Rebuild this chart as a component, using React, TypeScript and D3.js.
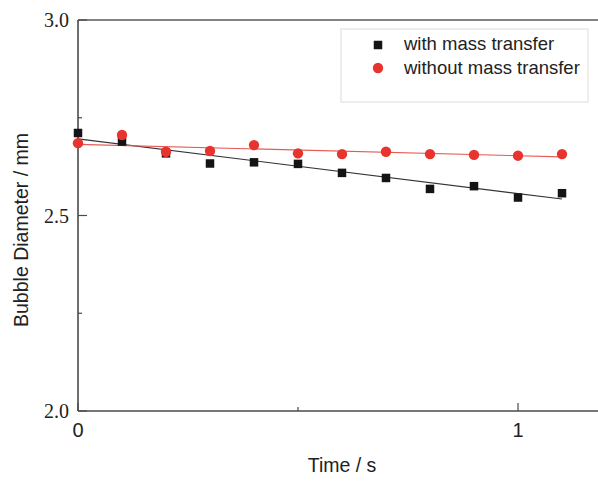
import React, { useEffect, useRef } from "react";
import * as d3 from "d3";

const timeValues = [0, 0.1, 0.2, 0.3, 0.4, 0.5, 0.6, 0.7, 0.8, 0.9, 1.0, 1.1];
const withMassTransfer = [2.711, 2.689, 2.659, 2.633, 2.636, 2.632, 2.609, 2.596, 2.568, 2.575, 2.546, 2.557];
const withoutMassTransfer = [2.685, 2.706, 2.663, 2.665, 2.68, 2.659, 2.657, 2.663, 2.657, 2.655, 2.653, 2.657];
const fitTime = [0, 1.1];
const fitWith = [2.696, 2.542];
const fitWithout = [2.682, 2.65];
const yMajorTicks = [2.0, 2.5, 3.0];
const yMinorTicks = [2.25, 2.75];
const xMajorTicks = [0, 1];
const xMinorTicks = [0.5];
const seriesNames = ["with mass transfer", "without mass transfer"];

export default function App() {
  const ref = useRef<SVGSVGElement>(null);

  useEffect(() => {
    const svg = d3.select(ref.current);
    svg.selectAll("*").remove();
    const W = 598;
    const x = d3.scaleLinear().domain([0, 1]).range([78, 518]);
    const y = d3.scaleLinear().domain([2.0, 3.0]).range([411, 20]);
    const axisColor = "#4a4a4a";
    const red = "#e8342f";
    const black = "#141414";

    // axes
    svg.append("line").attr("x1", 78).attr("x2", W).attr("y1", y(2)).attr("y2", y(2))
      .attr("stroke", axisColor).attr("stroke-width", 1.6);
    svg.append("line").attr("x1", 78).attr("x2", W).attr("y1", y(3)).attr("y2", y(3))
      .attr("stroke", "#5a5a5a").attr("stroke-width", 1.6);
    svg.append("line").attr("x1", 78).attr("x2", 78).attr("y1", y(3)).attr("y2", y(2))
      .attr("stroke", axisColor).attr("stroke-width", 1.6);

    // y ticks
    yMajorTicks.forEach((t) => {
      svg.append("line").attr("x1", 78).attr("x2", 87).attr("y1", y(t)).attr("y2", y(t))
        .attr("stroke", axisColor).attr("stroke-width", 1.2);
      svg.append("text").attr("x", 69).attr("y", y(t) + 7).attr("text-anchor", "end")
        .attr("font-family", "'Liberation Serif', 'Times New Roman', serif").attr("font-size", 20)
        .attr("fill", "#222").text(d3.format(".1f")(t));
    });
    yMinorTicks.forEach((t) => {
      svg.append("line").attr("x1", 78).attr("x2", 82).attr("y1", y(t)).attr("y2", y(t))
        .attr("stroke", axisColor).attr("stroke-width", 1.2);
    });
    // x ticks
    xMajorTicks.forEach((t) => {
      svg.append("line").attr("x1", x(t)).attr("x2", x(t)).attr("y1", y(2)).attr("y2", y(2) - 8)
        .attr("stroke", axisColor).attr("stroke-width", 1.2);
      svg.append("text").attr("x", x(t)).attr("y", 437).attr("text-anchor", "middle")
        .attr("font-family", "'Liberation Sans', Arial, sans-serif").attr("font-size", 20)
        .attr("fill", "#222").text(String(t));
    });
    xMinorTicks.forEach((t) => {
      svg.append("line").attr("x1", x(t)).attr("x2", x(t)).attr("y1", y(2)).attr("y2", y(2) - 4)
        .attr("stroke", axisColor).attr("stroke-width", 1.2);
    });

    // axis titles
    svg.append("text").attr("x", 342).attr("y", 472).attr("text-anchor", "middle")
      .attr("font-family", "'Liberation Sans', Arial, sans-serif").attr("font-size", 19.5)
      .attr("fill", "#222").text("Time / s");
    svg.append("text").attr("transform", "translate(28,230) rotate(-90)").attr("text-anchor", "middle")
      .attr("font-family", "'Liberation Sans', Arial, sans-serif").attr("font-size", 19.5)
      .attr("fill", "#222").text("Bubble Diameter / mm");

    // fit lines
    const line = d3.line<number>().x((_, i) => x(fitTime[i])).y((d) => y(d));
    svg.append("path").attr("d", line(fitWith)).attr("fill", "none").attr("stroke", "#333").attr("stroke-width", 1.1);
    svg.append("path").attr("d", line(fitWithout)).attr("fill", "none").attr("stroke", "#e45a55").attr("stroke-width", 1.1);

    // markers
    const s = 8.5;
    svg.append("g").selectAll("rect").data(withMassTransfer).enter().append("rect")
      .attr("x", (_, i) => x(timeValues[i]) - s / 2).attr("y", (d) => y(d) - s / 2)
      .attr("width", s).attr("height", s).attr("fill", black);
    svg.append("g").selectAll("circle").data(withoutMassTransfer).enter().append("circle")
      .attr("cx", (_, i) => x(timeValues[i])).attr("cy", (d) => y(d)).attr("r", 5.2).attr("fill", red);

    // legend
    svg.append("rect").attr("x", 341).attr("y", 29).attr("width", 247).attr("height", 73)
      .attr("fill", "white").attr("stroke", "#dcdcdc").attr("stroke-width", 1);
    svg.append("rect").attr("x", 378 - s / 2).attr("y", 45 - s / 2).attr("width", s).attr("height", s).attr("fill", black);
    svg.append("circle").attr("cx", 378).attr("cy", 68).attr("r", 5.2).attr("fill", red);
    [50, 74].forEach((by, i) => {
      svg.append("text").attr("x", 404).attr("y", by)
        .attr("font-family", "'Liberation Sans', Arial, sans-serif").attr("font-size", 18.5)
        .attr("fill", "#222").text(seriesNames[i]);
    });
  }, []);

  return (
    <svg ref={ref} width={598} height={482}
      style={{ position: "absolute", left: 0, top: 0, background: "white" }} />
  );
}
